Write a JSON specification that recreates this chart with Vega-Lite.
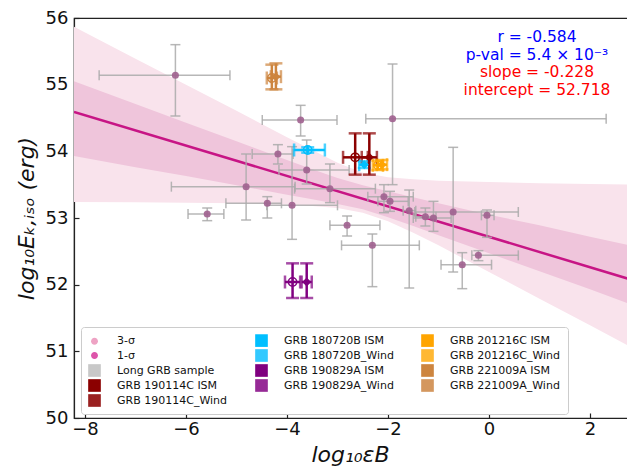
{
  "$schema": "https://vega.github.io/schema/vega-lite/v6.json",
  "width": 556,
  "height": 400,
  "autosize": {"type": "none"},
  "padding": {"left": 74, "top": 18, "right": 0, "bottom": 50},
  "background": "white",
  "config": {
    "font": "DejaVu Sans",
    "view": {"stroke": "#222222", "strokeWidth": 1.2},
    "axis": {
      "grid": false, "domainColor": "#222222", "tickColor": "#222222",
      "labelColor": "#111111", "titleColor": "#111111",
      "labelFontSize": 18, "titleFontSize": 22, "titleFontWeight": "normal",
      "titleFontStyle": "italic", "tickSize": -5, "tickWidth": 1.2, "domainWidth": 1.2,
      "labelFont": "DejaVu Sans", "titleFont": "DejaVu Sans"
    },
    "axisX": {"titleX": 276, "titleY": 43, "titleBaseline": "alphabetic", "titleAlign": "center", "labelPadding": 7},
    "axisY": {"titleX": -41, "titleY": 200, "titleBaseline": "alphabetic", "titleAlign": "center", "titleAngle": 270, "labelPadding": 11}
  },
  "resolve": {"scale": {"color": "independent", "shape": "independent"}, "legend": {"color": "independent", "shape": "independent"}},
  "datasets": {
    "band": [
      {"x": -8.218, "lu": 55.87, "ll": 53.24, "du": 55.05, "dl": 53.93},
      {"x": -7, "lu": 55.39, "ll": 53.235, "du": 54.71, "dl": 53.76},
      {"x": -6, "lu": 55.00, "ll": 53.23, "du": 54.43, "dl": 53.63},
      {"x": -5, "lu": 54.61, "ll": 53.22, "du": 54.15, "dl": 53.49},
      {"x": -4, "lu": 54.21, "ll": 53.20, "du": 53.87, "dl": 53.35},
      {"x": -3.5, "lu": 54.02, "ll": 53.18, "du": 53.73, "dl": 53.28},
      {"x": -3, "lu": 53.83, "ll": 53.15, "du": 53.60, "dl": 53.21},
      {"x": -2.5, "lu": 53.68, "ll": 53.08, "du": 53.49, "dl": 53.13},
      {"x": -2, "lu": 53.61, "ll": 52.95, "du": 53.40, "dl": 53.01},
      {"x": -1.5, "lu": 53.58, "ll": 52.78, "du": 53.31, "dl": 52.88},
      {"x": -1, "lu": 53.56, "ll": 52.59, "du": 53.22, "dl": 52.74},
      {"x": 0, "lu": 53.54, "ll": 52.19, "du": 53.05, "dl": 52.47},
      {"x": 1, "lu": 53.52, "ll": 51.79, "du": 52.89, "dl": 52.20},
      {"x": 2, "lu": 53.51, "ll": 51.39, "du": 52.72, "dl": 51.93},
      {"x": 2.792, "lu": 53.50, "ll": 51.07, "du": 52.59, "dl": 51.71}
    ],
    "fit": [
      {"x": -8.218, "y": 54.592},
      {"x": 2.792, "y": 52.081}
    ],
    "pts": [
      {"series": "Long GRB sample", "x": -6.21, "y": 55.14, "xlo": -7.72, "xhi": -5.13, "ylo": 54.53, "yhi": 55.60},
      {"series": "Long GRB sample", "x": -3.73, "y": 54.47, "xlo": -4.49, "xhi": -3.01, "ylo": 54.23, "yhi": 54.69},
      {"series": "Long GRB sample", "x": -4.18, "y": 53.96, "xlo": -4.69, "xhi": -3.88, "ylo": 53.81, "yhi": 54.10},
      {"series": "Long GRB sample", "x": -3.61, "y": 53.72, "xlo": -4.16, "xhi": -2.77, "ylo": 53.51, "yhi": 54.17},
      {"series": "Long GRB sample", "x": -4.81, "y": 53.47, "xlo": -6.29, "xhi": -3.84, "ylo": 52.97, "yhi": 53.96},
      {"series": "Long GRB sample", "x": -3.15, "y": 53.44, "xlo": -3.85, "xhi": -2.25, "ylo": 53.23, "yhi": 53.81},
      {"series": "Long GRB sample", "x": -4.39, "y": 53.22, "xlo": -5.21, "xhi": -4.11, "ylo": 53.00, "yhi": 53.32},
      {"series": "Long GRB sample", "x": -5.58, "y": 53.06, "xlo": -5.96, "xhi": -5.25, "ylo": 52.96, "yhi": 53.15},
      {"series": "Long GRB sample", "x": -3.90, "y": 53.19, "xlo": -4.40, "xhi": -3.00, "ylo": 52.68, "yhi": 54.07},
      {"series": "Long GRB sample", "x": -2.81, "y": 52.89, "xlo": -3.15, "xhi": -2.16, "ylo": 52.73, "yhi": 53.03},
      {"series": "Long GRB sample", "x": -2.31, "y": 52.59, "xlo": -2.92, "xhi": -1.38, "ylo": 51.97, "yhi": 52.76},
      {"series": "Long GRB sample", "x": -1.91, "y": 54.49, "xlo": -2.44, "xhi": 2.32, "ylo": 53.50, "yhi": 55.31},
      {"series": "Long GRB sample", "x": -2.08, "y": 53.32, "xlo": -2.40, "xhi": -1.50, "ylo": 53.08, "yhi": 53.50},
      {"series": "Long GRB sample", "x": -1.96, "y": 53.25, "xlo": -2.20, "xhi": -1.60, "ylo": 53.10, "yhi": 53.40},
      {"series": "Long GRB sample", "x": -1.58, "y": 53.11, "xlo": -1.70, "xhi": -1.45, "ylo": 51.95, "yhi": 53.42},
      {"series": "Long GRB sample", "x": -1.26, "y": 53.02, "xlo": -1.45, "xhi": -1.05, "ylo": 52.88, "yhi": 53.15},
      {"series": "Long GRB sample", "x": -1.10, "y": 53.00, "xlo": -1.50, "xhi": -0.75, "ylo": 52.80, "yhi": 53.25},
      {"series": "Long GRB sample", "x": -0.71, "y": 53.09, "xlo": -1.47, "xhi": 0.58, "ylo": 52.19, "yhi": 54.06},
      {"series": "Long GRB sample", "x": -0.04, "y": 53.04, "xlo": -0.15, "xhi": 0.10, "ylo": 52.71, "yhi": 53.12},
      {"series": "Long GRB sample", "x": -0.53, "y": 52.30, "xlo": -0.95, "xhi": 0.05, "ylo": 51.94, "yhi": 52.48},
      {"series": "Long GRB sample", "x": -0.21, "y": 52.44, "xlo": -0.34, "xhi": 0.58, "ylo": 52.36, "yhi": 52.51},
      {"series": "GRB 180720B_Wind", "x": -3.59, "y": 54.02, "xlo": -3.86, "xhi": -3.25, "ylo": 53.98, "yhi": 54.06},
      {"series": "GRB 180720B ISM", "x": -2.47, "y": 53.80, "xlo": -2.57, "xhi": -2.37, "ylo": 53.75, "yhi": 53.85},
      {"series": "GRB 190114C_Wind", "x": -2.65, "y": 53.91, "xlo": -2.89, "xhi": -2.40, "ylo": 53.65, "yhi": 54.27},
      {"series": "GRB 190114C ISM", "x": -2.37, "y": 53.91, "xlo": -2.52, "xhi": -2.22, "ylo": 53.65, "yhi": 54.27},
      {"series": "GRB 190829A_Wind", "x": -3.89, "y": 52.04, "xlo": -4.04, "xhi": -3.74, "ylo": 51.80, "yhi": 52.32},
      {"series": "GRB 190829A ISM", "x": -3.61, "y": 52.04, "xlo": -3.71, "xhi": -3.51, "ylo": 51.80, "yhi": 52.32},
      {"series": "GRB 201216C_Wind", "x": -2.20, "y": 53.79, "xlo": -2.30, "xhi": -2.10, "ylo": 53.72, "yhi": 53.86},
      {"series": "GRB 201216C ISM", "x": -2.12, "y": 53.80, "xlo": -2.22, "xhi": -2.02, "ylo": 53.73, "yhi": 53.87},
      {"series": "GRB 221009A_Wind", "x": -4.30, "y": 55.10, "xlo": -4.40, "xhi": -4.20, "ylo": 54.93, "yhi": 55.30},
      {"series": "GRB 221009A ISM", "x": -4.22, "y": 55.12, "xlo": -4.32, "xhi": -4.12, "ylo": 54.93, "yhi": 55.32}
    ],
    "legend": [
      {"series": "3-σ"}, {"series": "1-σ"}, {"series": "Long GRB sample"},
      {"series": "GRB 190114C ISM"}, {"series": "GRB 190114C_Wind"},
      {"series": "GRB 180720B ISM"}, {"series": "GRB 180720B_Wind"},
      {"series": "GRB 190829A ISM"}, {"series": "GRB 190829A_Wind"},
      {"series": "GRB 201216C ISM"}, {"series": "GRB 201216C_Wind"},
      {"series": "GRB 221009A ISM"}, {"series": "GRB 221009A_Wind"}
    ],
    "stats": [
      {"x": 0.95, "y": 55.715, "label": "r = -0.584", "kind": "corr"},
      {"x": 0.95, "y": 55.45, "label": "p-val = 5.4 × 10⁻³", "kind": "corr"},
      {"x": 0.95, "y": 55.185, "label": "slope = -0.228", "kind": "fit"},
      {"x": 0.95, "y": 54.925, "label": "intercept = 52.718", "kind": "fit"}
    ]
  },
  "layer": [
    {
      "data": {"name": "band"},
      "mark": {"type": "area", "color": "#f9e3ec", "clip": true},
      "encoding": {
        "x": {"field": "x", "type": "quantitative", "scale": {"domain": [-8.218, 2.792], "nice": false, "zero": false},
              "axis": {"values": [-8, -6, -4, -2, 0, 2], "title": "log₁₀εB"}},
        "y": {"field": "lu", "type": "quantitative", "scale": {"domain": [50, 56], "nice": false, "zero": false},
              "axis": {"values": [50, 51, 52, 53, 54, 55, 56], "title": "log₁₀Eₖ,ᵢₛₒ (erg)"}},
        "y2": {"field": "ll"}
      }
    },
    {
      "data": {"name": "band"},
      "mark": {"type": "area", "color": "#efc5db", "clip": true},
      "encoding": {
        "x": {"field": "x", "type": "quantitative", "scale": {"domain": [-8.218, 2.792], "nice": false, "zero": false},
              "axis": {"values": [-8, -6, -4, -2, 0, 2], "title": "log₁₀εB"}},
        "y": {"field": "du", "type": "quantitative", "scale": {"domain": [50, 56], "nice": false, "zero": false},
              "axis": {"values": [50, 51, 52, 53, 54, 55, 56], "title": "log₁₀Eₖ,ᵢₛₒ (erg)"}},
        "y2": {"field": "dl"}
      }
    },
    {
      "data": {"name": "fit"},
      "mark": {"type": "line", "color": "#c71585", "strokeWidth": 2.5, "clip": true},
      "encoding": {
        "x": {"field": "x", "type": "quantitative", "scale": {"domain": [-8.218, 2.792], "nice": false, "zero": false},
              "axis": {"values": [-8, -6, -4, -2, 0, 2], "title": "log₁₀εB"}},
        "y": {"field": "y", "type": "quantitative", "scale": {"domain": [50, 56], "nice": false, "zero": false},
              "axis": {"values": [50, 51, 52, 53, 54, 55, 56], "title": "log₁₀Eₖ,ᵢₛₒ (erg)"}}
      }
    },
    {
      "data": {"name": "pts"},
      "transform": [{"filter": "datum.series == 'Long GRB sample'"}],
      "mark": {"type": "errorbar", "ticks": {"size": 10, "thickness": 1.5, "color": "#aaaaaa"}, "rule": {"strokeWidth": 1.5, "color": "#aaaaaa"}, "opacity": 0.85},
      "encoding": {
        "x": {"field": "xlo", "type": "quantitative", "scale": {"domain": [-8.218, 2.792], "nice": false, "zero": false},
              "axis": {"values": [-8, -6, -4, -2, 0, 2], "title": "log₁₀εB"}},
        "x2": {"field": "xhi"},
        "y": {"field": "y", "type": "quantitative", "scale": {"domain": [50, 56], "nice": false, "zero": false},
              "axis": {"values": [50, 51, 52, 53, 54, 55, 56], "title": "log₁₀Eₖ,ᵢₛₒ (erg)"}}
      }
    },
    {
      "data": {"name": "pts"},
      "transform": [{"filter": "datum.series == 'Long GRB sample'"}],
      "mark": {"type": "errorbar", "ticks": {"size": 10, "thickness": 1.5, "color": "#aaaaaa"}, "rule": {"strokeWidth": 1.5, "color": "#aaaaaa"}, "opacity": 0.85},
      "encoding": {
        "y": {"field": "ylo", "type": "quantitative", "scale": {"domain": [50, 56], "nice": false, "zero": false},
              "axis": {"values": [50, 51, 52, 53, 54, 55, 56], "title": "log₁₀Eₖ,ᵢₛₒ (erg)"}},
        "y2": {"field": "yhi"},
        "x": {"field": "x", "type": "quantitative", "scale": {"domain": [-8.218, 2.792], "nice": false, "zero": false},
              "axis": {"values": [-8, -6, -4, -2, 0, 2], "title": "log₁₀εB"}}
      }
    },
    {
      "data": {"name": "pts"},
      "transform": [{"filter": "datum.series == 'Long GRB sample'"}],
      "mark": {"type": "point", "filled": true, "shape": "circle", "size": 50, "color": "#a0608f", "opacity": 0.9},
      "encoding": {
        "x": {"field": "x", "type": "quantitative", "scale": {"domain": [-8.218, 2.792], "nice": false, "zero": false},
              "axis": {"values": [-8, -6, -4, -2, 0, 2], "title": "log₁₀εB"}},
        "y": {"field": "y", "type": "quantitative", "scale": {"domain": [50, 56], "nice": false, "zero": false},
              "axis": {"values": [50, 51, 52, 53, 54, 55, 56], "title": "log₁₀Eₖ,ᵢₛₒ (erg)"}}
      }
    },
    {
      "data": {"name": "pts"},
      "transform": [{"filter": "datum.series != 'Long GRB sample'"}],
      "mark": {"type": "errorbar", "ticks": {"size": 13, "thickness": 2.5}, "rule": {"strokeWidth": 2.5}},
      "encoding": {
        "x": {"field": "xlo", "type": "quantitative", "scale": {"domain": [-8.218, 2.792], "nice": false, "zero": false},
              "axis": {"values": [-8, -6, -4, -2, 0, 2], "title": "log₁₀εB"}},
        "x2": {"field": "xhi"},
        "y": {"field": "y", "type": "quantitative", "scale": {"domain": [50, 56], "nice": false, "zero": false},
              "axis": {"values": [50, 51, 52, 53, 54, 55, 56], "title": "log₁₀Eₖ,ᵢₛₒ (erg)"}},
        "color": {"field": "series", "type": "nominal", "legend": null,
          "scale": {"domain": ["GRB 180720B ISM", "GRB 201216C ISM", "GRB 180720B_Wind", "GRB 201216C_Wind", "GRB 190829A ISM", "GRB 221009A ISM", "GRB 190114C ISM", "GRB 190829A_Wind", "GRB 221009A_Wind", "GRB 190114C_Wind"],
                    "range": ["#00bfff", "#ffa500", "#00bfff", "#ffa500", "#800080", "#cd853f", "#8b0000", "#800080", "#cd853f", "#8b0000"]}}
      }
    },
    {
      "data": {"name": "pts"},
      "transform": [{"filter": "datum.series != 'Long GRB sample'"}],
      "mark": {"type": "errorbar", "ticks": {"size": 13, "thickness": 2.5}, "rule": {"strokeWidth": 2.5}},
      "encoding": {
        "y": {"field": "ylo", "type": "quantitative", "scale": {"domain": [50, 56], "nice": false, "zero": false},
              "axis": {"values": [50, 51, 52, 53, 54, 55, 56], "title": "log₁₀Eₖ,ᵢₛₒ (erg)"}},
        "y2": {"field": "yhi"},
        "x": {"field": "x", "type": "quantitative", "scale": {"domain": [-8.218, 2.792], "nice": false, "zero": false},
              "axis": {"values": [-8, -6, -4, -2, 0, 2], "title": "log₁₀εB"}},
        "color": {"field": "series", "type": "nominal", "legend": null,
          "scale": {"domain": ["GRB 180720B ISM", "GRB 201216C ISM", "GRB 180720B_Wind", "GRB 201216C_Wind", "GRB 190829A ISM", "GRB 221009A ISM", "GRB 190114C ISM", "GRB 190829A_Wind", "GRB 221009A_Wind", "GRB 190114C_Wind"],
                    "range": ["#00bfff", "#ffa500", "#00bfff", "#ffa500", "#800080", "#cd853f", "#8b0000", "#800080", "#cd853f", "#8b0000"]}}
      }
    },
    {
      "data": {"name": "pts"},
      "transform": [{"filter": "indexof(datum.series, 'ISM') >= 0"}],
      "mark": {"type": "point", "filled": true, "shape": "diamond", "size": 80, "opacity": 1},
      "encoding": {
        "x": {"field": "x", "type": "quantitative", "scale": {"domain": [-8.218, 2.792], "nice": false, "zero": false},
              "axis": {"values": [-8, -6, -4, -2, 0, 2], "title": "log₁₀εB"}},
        "y": {"field": "y", "type": "quantitative", "scale": {"domain": [50, 56], "nice": false, "zero": false},
              "axis": {"values": [50, 51, 52, 53, 54, 55, 56], "title": "log₁₀Eₖ,ᵢₛₒ (erg)"}},
        "color": {"field": "series", "type": "nominal", "legend": null,
          "scale": {"domain": ["GRB 180720B ISM", "GRB 201216C ISM", "GRB 190829A ISM", "GRB 221009A ISM", "GRB 190114C ISM"],
                    "range": ["#00bfff", "#ffa500", "#800080", "#cd853f", "#8b0000"]}}
      }
    },
    {
      "data": {"name": "pts"},
      "transform": [{"filter": "indexof(datum.series, 'Wind') >= 0"}],
      "mark": {"type": "point", "filled": false, "shape": "M-1,0A1,1 0 1,0 1,0A1,1 0 1,0 -1,0M-1,0H1M0,-1V1", "size": 70, "strokeWidth": 1.5, "opacity": 1},
      "encoding": {
        "x": {"field": "x", "type": "quantitative", "scale": {"domain": [-8.218, 2.792], "nice": false, "zero": false},
              "axis": {"values": [-8, -6, -4, -2, 0, 2], "title": "log₁₀εB"}},
        "y": {"field": "y", "type": "quantitative", "scale": {"domain": [50, 56], "nice": false, "zero": false},
              "axis": {"values": [50, 51, 52, 53, 54, 55, 56], "title": "log₁₀Eₖ,ᵢₛₒ (erg)"}},
        "color": {"field": "series", "type": "nominal", "legend": null,
          "scale": {"domain": ["GRB 180720B_Wind", "GRB 201216C_Wind", "GRB 190829A_Wind", "GRB 221009A_Wind", "GRB 190114C_Wind"],
                    "range": ["#00bfff", "#ffa500", "#800080", "#cd853f", "#8b0000"]}}
      }
    },
    {
      "data": {"name": "stats"},
      "mark": {"type": "text", "align": "center", "baseline": "middle", "fontSize": 15.5, "font": "DejaVu Sans"},
      "encoding": {
        "x": {"field": "x", "type": "quantitative", "scale": {"domain": [-8.218, 2.792], "nice": false, "zero": false},
              "axis": {"values": [-8, -6, -4, -2, 0, 2], "title": "log₁₀εB"}},
        "y": {"field": "y", "type": "quantitative", "scale": {"domain": [50, 56], "nice": false, "zero": false},
              "axis": {"values": [50, 51, 52, 53, 54, 55, 56], "title": "log₁₀Eₖ,ᵢₛₒ (erg)"}},
        "text": {"field": "label"},
        "color": {"condition": {"test": "datum.kind == 'fit'", "value": "#ff0000"}, "value": "#0000ff"}
      }
    },
    {
      "data": {"name": "legend"},
      "mark": {"type": "point", "filled": true, "opacity": 0},
      "encoding": {
        "color": {"field": "series", "type": "nominal",
          "scale": {"domain": ["3-σ", "1-σ", "Long GRB sample", "GRB 190114C ISM", "GRB 221009A_Wind", "GRB 180720B ISM", "GRB 180720B_Wind", "GRB 190829A ISM", "GRB 190829A_Wind", "GRB 190114C_Wind", "GRB 201216C ISM", "GRB 201216C_Wind", "GRB 221009A ISM"],
                    "range": ["#eea3c4", "#dd55aa", "#c8c8c8", "#8b0000", "#d4975e", "#00bfff", "#33c9ff", "#800080", "#962a96", "#9a2020", "#ffa500", "#ffb833", "#cd853f"]},
          "legend": {"orient": "none", "legendX": 7, "legendY": 309, "columns": 3, "columnPadding": 27, "rowPadding": 2,
                     "title": null, "labelFontSize": 11, "labelFont": "DejaVu Sans", "labelColor": "#111111", "symbolSize": 160, "symbolStrokeWidth": 0,
                     "symbolOpacity": 1, "fillColor": "white", "strokeColor": "#cccccc", "cornerRadius": 3, "padding": 7, "labelOffset": 16, "labelLimit": 220}},
        "shape": {"field": "series", "type": "nominal",
          "scale": {"domain": ["3-σ", "1-σ", "Long GRB sample", "GRB 190114C ISM", "GRB 221009A_Wind", "GRB 180720B ISM", "GRB 180720B_Wind", "GRB 190829A ISM", "GRB 190829A_Wind", "GRB 190114C_Wind", "GRB 201216C ISM", "GRB 201216C_Wind", "GRB 221009A ISM"],
                    "range": ["M0,-0.55A0.55,0.55 0 1,1 0,0.55A0.55,0.55 0 1,1 0,-0.55Z", "M0,-0.55A0.55,0.55 0 1,1 0,0.55A0.55,0.55 0 1,1 0,-0.55Z", "square", "square", "square", "square", "square", "square", "square", "square", "square", "square", "square"]},
          "legend": {"orient": "none", "legendX": 7, "legendY": 309, "columns": 3, "columnPadding": 27, "rowPadding": 2,
                     "title": null, "labelFontSize": 11, "labelFont": "DejaVu Sans", "labelColor": "#111111", "symbolSize": 160, "symbolStrokeWidth": 0,
                     "symbolOpacity": 1, "fillColor": "white", "strokeColor": "#cccccc", "cornerRadius": 3, "padding": 7, "labelOffset": 16, "labelLimit": 220}}
      }
    }
  ]
}
